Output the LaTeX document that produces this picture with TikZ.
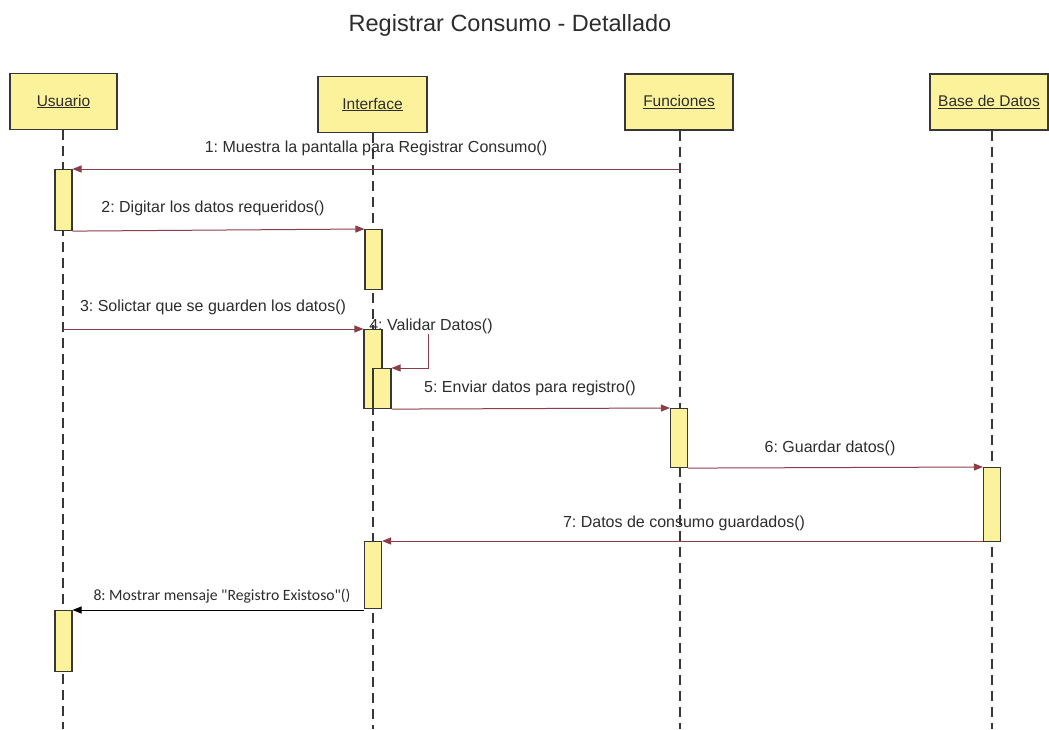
\documentclass[tikz,border=0pt]{standalone}
\usepackage{fontspec}
\setmainfont{Liberation Sans}
\newfontfamily\calibfont{Carlito}
\usetikzlibrary{arrows.meta}
\definecolor{headfill}{RGB}{251,242,155}
\definecolor{msgred}{RGB}{140,62,72}
\definecolor{lineg}{RGB}{55,55,55}
\definecolor{txt}{RGB}{45,45,45}
\frenchspacing
\begin{document}
\begin{tikzpicture}[x=1pt,y=-1pt,
  head/.style={draw=lineg, line width=1.4pt, fill=headfill, minimum height=56pt,
    inner sep=0pt, font=\fontsize{15.5}{18}\selectfont, text=txt},
  act/.style={draw=lineg, line width=1.1pt, fill=headfill, minimum width=17pt,
    inner sep=0pt, anchor=north},
  life/.style={draw=lineg, line width=1.3pt, dash pattern=on 10pt off 6pt},
  msg/.style={draw=msgred, line width=1pt, -{Triangle[length=9pt,width=7pt]}},
  reply/.style={draw=black, line width=1pt, -{Triangle[length=9pt,width=7pt]}},
  lbl/.style={font=\fontsize{16}{18}\selectfont, text=txt, inner sep=0pt, anchor=base}
]
\useasboundingbox[fill=white] (0,0) rectangle (1049,729);

% title
\node[font=\fontsize{23.5}{27}\selectfont, text=txt, anchor=base] (title) at (510,31) {Registrar Consumo - Detallado};

% object heads
\node[head, minimum width=107pt] (usr) at (63.5,101.5) {\underline{Usuario}};
\node[head, minimum width=109pt] (int) at (372.5,104.5) {\underline{Interface}};
\node[head, minimum width=108pt] (fun) at (679,102) {\underline{Funciones}};
\node[head, minimum width=118pt] (bd)  at (989,102) {\underline{Base de Datos}};

% lifelines
\coordinate (usrEnd) at (63,729);
\coordinate (intEnd) at (373,729);
\coordinate (funEnd) at (680,729);
\coordinate (bdEnd)  at (992,729);
\draw[life] (usrEnd |- usr.south) -- (usrEnd);
\draw[life] (intEnd |- int.south) -- (intEnd);
\draw[life] (funEnd |- fun.south) -- (funEnd);
\draw[life] (bdEnd |- bd.south) -- (bdEnd);

% activation bars
\node[act, minimum height=61pt] (a1) at (63.5,169) {};
\node[act, minimum height=60pt] (a2) at (373.5,229) {};
\node[act, minimum width=18pt, minimum height=79pt] (a3) at (373,329) {};
\node[act, minimum width=18pt, minimum height=40pt] (a4) at (382,368) {};
\node[act, minimum height=59pt] (a5) at (679,408) {};
\node[act, minimum height=74pt] (a6) at (992,467) {};
\node[act, minimum height=67pt] (a7) at (373,541) {};
\node[act, minimum height=61pt] (a8) at (63.5,610) {};

% messages
\draw[msg] (funEnd |- a1.north east) -- (a1.north east);
\node[lbl] (l1) at (376,152) {1: Muestra la pantalla para Registrar Consumo()};

\draw[msg] (a1.south east) -- (a2.north west);
\node[lbl] (l2) at (213,212) {2: Digitar los datos requeridos()};

\draw[msg] (usrEnd |- a3.north west) -- (a3.north west);
\node[lbl] (l3) at (213,311) {3: Solictar que se guarden los datos()};

\coordinate (s4) at (428,334);
\draw[msg] (s4) -- (s4 |- a4.north east) -- (a4.north east);
\node[lbl] (l4) at (431,330) {4: Validar Datos()};

\draw[msg] (a4.south east) -- (a5.north west);
\node[lbl] (l5) at (530,392) {5: Enviar datos para registro()};

\draw[msg] (a5.south east) -- (a6.north west);
\node[lbl] (l6) at (830,452) {6: Guardar datos()};

\draw[msg] (a6.south west |- a7.north east) -- (a7.north east);
\node[lbl] (l7) at (684,527) {7: Datos de consumo guardados()};

\draw[reply] (a7.south west |- a8.north east) -- (a8.north east);
\node[lbl, font=\calibfont\fontsize{15.7}{18}\selectfont] (l8) at (222,600) {8: Mostrar mensaje "Registro Existoso"()};
\end{tikzpicture}
\end{document}
